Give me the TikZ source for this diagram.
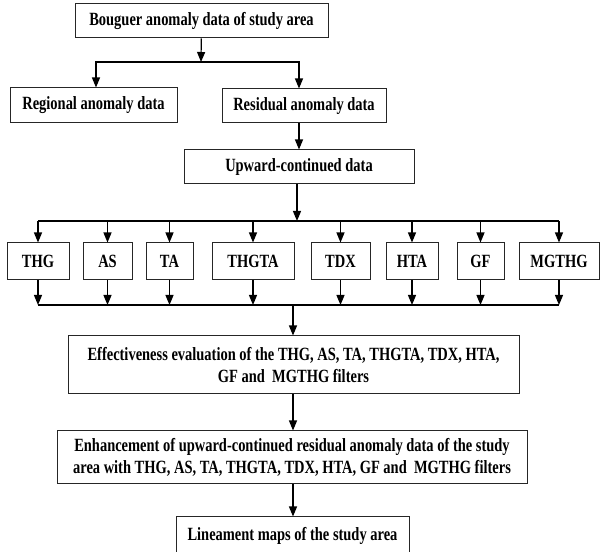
\documentclass[tikz,border=0pt]{standalone}
\usepackage{fontspec}
\setmainfont[FakeStretch=0.775]{Liberation Serif}
\usetikzlibrary{arrows.meta}

\newlength{\du}
\setlength{\du}{0.75pt}

\tikzset{
  block/.style={draw=black!85, line width=0.75pt, fill=white, inner sep=0pt, align=center,
    font=\fontsize{14}{16.5}\selectfont\bfseries},
  flow/.style={-{Triangle[length=7.5pt,width=6pt]}, line width=0.9pt},
  rail/.style={line width=0.9pt},
}

\begin{document}
\begin{tikzpicture}
\pgftransformxscale{1.000000}
\pgftransformyscale{-1.000000}
\useasboundingbox (0\du,0\du) rectangle (601\du,552\du);
% source data
\node[block, minimum width=253\du, minimum height=34\du] (bouguer) at (201.5\du,21\du){Bouguer anomaly data of study area};
\node[block, minimum width=167\du, minimum height=35\du] (regional) at (93.5\du,105.5\du){Regional anomaly data};
\node[block, minimum width=164\du, minimum height=34\du] (residual) at (304\du,106\du){Residual anomaly data};
\node[block, minimum width=230\du, minimum height=34\du] (upward) at (299\du,167\du){Upward-continued data};
% filters
\node[block, minimum width=62\du, minimum height=37\du] (thg) at (38\du,261.5\du){THG};
\node[block, minimum width=49\du, minimum height=37\du] (as) at (107.5\du,261.5\du){AS};
\node[block, minimum width=47\du, minimum height=37\du] (ta) at (169.5\du,261.5\du){TA};
\node[block, minimum width=82\du, minimum height=37\du] (thgta) at (253\du,261.5\du){THGTA};
\node[block, minimum width=59\du, minimum height=37\du] (tdx) at (340.5\du,261.5\du){TDX};
\node[block, minimum width=52\du, minimum height=37\du] (hta) at (412\du,261.5\du){HTA};
\node[block, minimum width=47\du, minimum height=37\du] (gf) at (480.5\du,261.5\du){GF};
\node[block, minimum width=80\du, minimum height=37\du] (mgthg) at (559\du,261.5\du){MGTHG};
% results
\node[block, minimum width=451\du, minimum height=58\du] (effect) at (293.5\du,365\du){Effectiveness evaluation of the THG, AS, TA, THGTA, TDX, HTA,\\ GF and\ \ MGTHG filters};
\node[block, minimum width=470\du, minimum height=53\du] (enhance) at (292\du,457.5\du){Enhancement of upward-continued residual anomaly data of the study\\ area with THG, AS, TA, THGTA, TDX, HTA, GF and\ \ MGTHG filters};
\node[block, minimum width=233\du, minimum height=38\du] (lineament) at (292.5\du,536\du){Lineament maps of the study area};
% junctions
\coordinate (split) at (201\du,62\du);
\coordinate (spread) at (297\du,221\du);
\coordinate (merge) at (293\du,305\du);
% connectors
\draw[flow] (bouguer) -- (split);
\draw[flow] (split) -| ([xshift=2.5\du]regional.north);
\draw[flow] (split) -| (residual.north -| upward.north);
\draw[flow] (residual.south -| upward.north) -- (upward.north);
\draw[flow] (upward.south -| spread) -- (spread);
\draw[rail] (spread -| thg.north) -- (spread -| mgthg.north);
\draw[flow] (spread -| thg.north) -- (thg.north);
\draw[flow] (spread -| as.north) -- (as.north);
\draw[flow] (spread -| ta.north) -- (ta.north);
\draw[flow] (spread -| thgta.north) -- (thgta.north);
\draw[flow] (spread -| tdx.north) -- (tdx.north);
\draw[flow] (spread -| hta.north) -- (hta.north);
\draw[flow] (spread -| gf.north) -- (gf.north);
\draw[flow] (spread -| mgthg.north) -- (mgthg.north);
\draw[flow] (thg.south) -- (thg.south |- merge);
\draw[flow] (as.south) -- (as.south |- merge);
\draw[flow] (ta.south) -- (ta.south |- merge);
\draw[flow] (thgta.south) -- (thgta.south |- merge);
\draw[flow] (tdx.south) -- (tdx.south |- merge);
\draw[flow] (hta.south) -- (hta.south |- merge);
\draw[flow] (gf.south) -- (gf.south |- merge);
\draw[flow] (mgthg.south) -- (mgthg.south |- merge);
\draw[rail] (thg.south |- merge) -- (mgthg.south |- merge);
\draw[flow] (merge) -- (merge |- effect.north);
\draw[flow] (effect.south -| merge) -- (enhance.north -| merge);
\draw[flow] (enhance.south -| merge) -- (lineament.north -| merge);
\end{tikzpicture}
\end{document}
